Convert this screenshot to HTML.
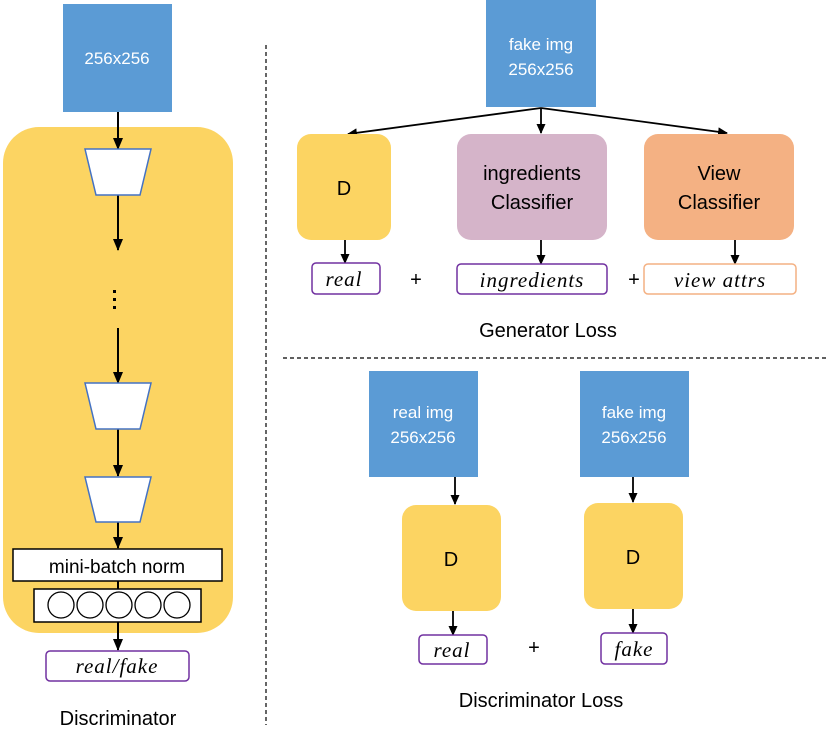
<!DOCTYPE html>
<html><head><meta charset="utf-8"><style>body{margin:0;background:#fff}svg{display:block}</style></head><body>
<svg width="830" height="746" viewBox="0 0 830 746" xmlns="http://www.w3.org/2000/svg" font-family="Liberation Sans, sans-serif">
<defs><marker id="a" markerWidth="10" markerHeight="9" refX="9" refY="4.5" orient="auto" markerUnits="userSpaceOnUse"><path d="M0,0 L10,4.5 L0,9 z" fill="#000"/></marker>
<marker id="b" markerWidth="12" markerHeight="10" refX="11" refY="5" orient="auto" markerUnits="userSpaceOnUse"><path d="M0,0 L12,5 L0,10 z" fill="#000"/></marker></defs>
<!-- left -->
<rect x="63" y="4" width="109" height="108" fill="#5B9BD5"/>
<text x="117" y="64" font-size="17" fill="#fff" text-anchor="middle">256x256</text>
<rect x="3" y="127" width="230" height="506" rx="36" fill="#FCD462"/>
<g stroke="#000" stroke-width="2" marker-end="url(#b)">
<line x1="118" y1="112" x2="118" y2="149"/><line x1="118" y1="195" x2="118" y2="250"/>
<line x1="118" y1="328" x2="118" y2="383"/><line x1="118" y1="429" x2="118" y2="476"/>
<line x1="118" y1="522" x2="118" y2="548"/><line x1="118" y1="622" x2="118" y2="650"/></g>
<line x1="118" y1="581" x2="118" y2="589" stroke="#000" stroke-width="2"/>
<g fill="#fff" stroke="#4472C4" stroke-width="1.5">
<polygon points="85,149 151,149 140,195 96,195"/><polygon points="85,383 151,383 140,429 96,429"/><polygon points="85,477 151,477 140,522 96,522"/></g>
<g fill="#000"><rect x="113" y="290" width="3" height="3"/><rect x="113" y="298" width="3" height="3"/><rect x="113" y="306" width="3" height="3"/></g>
<rect x="13" y="549" width="209" height="32" fill="#fff" stroke="#000" stroke-width="1.5"/>
<text x="117" y="573" font-size="19" text-anchor="middle">mini-batch norm</text>
<rect x="34" y="589" width="167" height="33" fill="#fff" stroke="#000" stroke-width="1.5"/>
<g fill="none" stroke="#000" stroke-width="1.3"><circle cx="61" cy="605" r="13"/><circle cx="90" cy="605" r="13"/><circle cx="119" cy="605" r="13"/><circle cx="148" cy="605" r="13"/><circle cx="177" cy="605" r="13"/></g>
<rect x="46" y="651" width="143" height="30" rx="4" fill="#fff" stroke="#7030A0" stroke-width="1.5"/>
<text x="117" y="673" font-size="21" font-style="italic" font-family="Liberation Serif, serif" text-anchor="middle" letter-spacing="1">real/fake</text>
<text x="118" y="725" font-size="20" text-anchor="middle">Discriminator</text>
<line x1="266" y1="45" x2="266" y2="725" stroke="#000" stroke-width="1.2" stroke-dasharray="4,3"/>
<line x1="283" y1="358" x2="828" y2="358" stroke="#000" stroke-width="1.2" stroke-dasharray="4,3"/>
<!-- gen -->
<rect x="486" y="0" width="110" height="107" fill="#5B9BD5"/>
<text x="541" y="50" font-size="17" fill="#fff" text-anchor="middle">fake img</text>
<text x="541" y="75" font-size="17" fill="#fff" text-anchor="middle">256x256</text>
<g stroke="#000" stroke-width="1.8" marker-end="url(#a)">
<line x1="541" y1="108" x2="348" y2="134"/><line x1="541" y1="108" x2="541" y2="133"/><line x1="541" y1="108" x2="727" y2="133"/>
<line x1="345" y1="240" x2="345" y2="263"/><line x1="541" y1="240" x2="541" y2="264"/><line x1="735" y1="240" x2="735" y2="264"/>
<line x1="455" y1="477" x2="455" y2="504"/><line x1="633" y1="477" x2="633" y2="502"/>
<line x1="453" y1="611" x2="453" y2="635"/><line x1="633" y1="609" x2="633" y2="633"/></g>
<rect x="297" y="134" width="94" height="106" rx="14" fill="#FCD462"/>
<text x="344" y="195" font-size="20" text-anchor="middle">D</text>
<rect x="457" y="134" width="150" height="106" rx="14" fill="#D5B4C9"/>
<text x="532" y="180" font-size="20" text-anchor="middle">ingredients</text>
<text x="532" y="209" font-size="20" text-anchor="middle">Classifier</text>
<rect x="644" y="134" width="150" height="106" rx="14" fill="#F4B183"/>
<text x="719" y="180" font-size="20" text-anchor="middle">View</text>
<text x="719" y="209" font-size="20" text-anchor="middle">Classifier</text>
<g font-family="Liberation Serif, serif" font-style="italic" font-size="21" text-anchor="middle" letter-spacing="1">
<rect x="312" y="263" width="68" height="31" rx="4" fill="#fff" stroke="#7030A0" stroke-width="1.5"/><text x="344" y="286">real</text>
<rect x="457" y="264" width="150" height="30" rx="4" fill="#fff" stroke="#7030A0" stroke-width="1.5"/><text x="532" y="287">ingredients</text>
<rect x="644" y="264" width="152" height="30" rx="4" fill="#fff" stroke="#F4B183" stroke-width="1.5"/><text x="720" y="287">view attrs</text>
<rect x="419" y="635" width="68" height="29" rx="4" fill="#fff" stroke="#7030A0" stroke-width="1.5"/><text x="452" y="657">real</text>
<rect x="601" y="633" width="66" height="31" rx="4" fill="#fff" stroke="#7030A0" stroke-width="1.5"/><text x="634" y="656">fake</text>
</g>
<g font-size="20" text-anchor="middle"><text x="416" y="286">+</text><text x="634" y="286">+</text><text x="534" y="654">+</text></g>
<text x="548" y="337" font-size="20" text-anchor="middle">Generator Loss</text>
<rect x="369" y="371" width="109" height="106" fill="#5B9BD5"/>
<text x="423" y="418" font-size="17" fill="#fff" text-anchor="middle">real img</text>
<text x="423" y="443" font-size="17" fill="#fff" text-anchor="middle">256x256</text>
<rect x="580" y="371" width="109" height="106" fill="#5B9BD5"/>
<text x="634" y="418" font-size="17" fill="#fff" text-anchor="middle">fake img</text>
<text x="634" y="443" font-size="17" fill="#fff" text-anchor="middle">256x256</text>
<rect x="402" y="505" width="99" height="106" rx="14" fill="#FCD462"/>
<text x="451" y="566" font-size="20" text-anchor="middle">D</text>
<rect x="584" y="503" width="99" height="106" rx="14" fill="#FCD462"/>
<text x="633" y="564" font-size="20" text-anchor="middle">D</text>
<text x="541" y="707" font-size="20" text-anchor="middle">Discriminator Loss</text>
</svg>
</body></html>
